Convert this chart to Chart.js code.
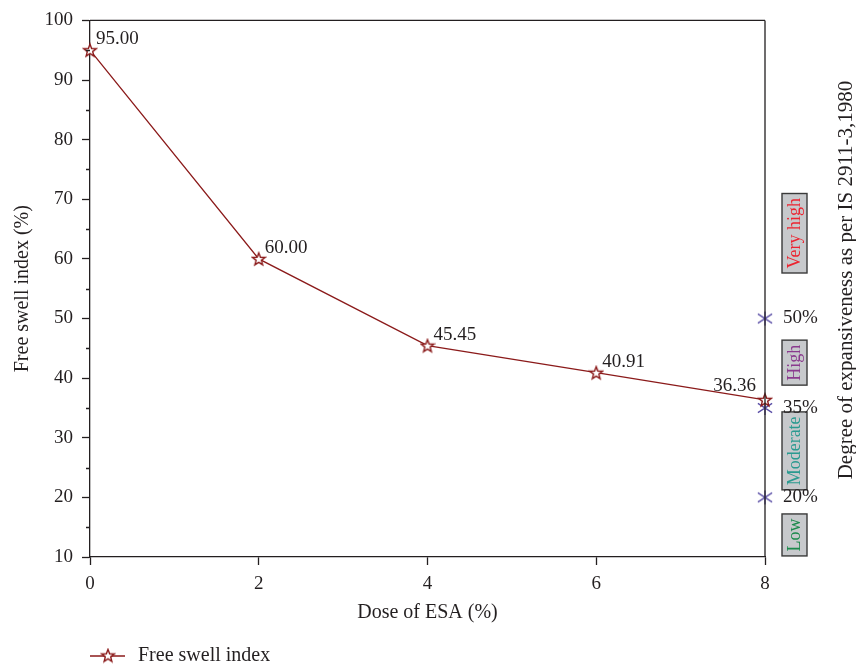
<!DOCTYPE html>
<html>
<head>
<meta charset="utf-8">
<script src="https://cdn.jsdelivr.net/npm/chart.js@4"></script>
<style>
  html, body { margin: 0; padding: 0; background: #fff; }
  #wrap { width: 856px; height: 667px; }
</style>
</head>
<body>
<div id="wrap"><canvas id="c" width="856" height="667"></canvas></div>
<script>
// Free swell index against dose of ESA
const doses = [0, 2, 4, 6, 8];
const freeSwell = [95.00, 60.00, 45.45, 40.91, 36.36];
const xTicks = [0, 2, 4, 6, 8];
const yTicks = [10, 20, 30, 40, 50, 60, 70, 80, 90, 100];

// IS 2911-3 expansiveness thresholds (%) and class bands
const thresholds = [20, 35, 50];
const classNames = ['Low', 'Moderate', 'High', 'Very high'];
const classCentres = [13.7, 27.8, 42.6, 64.3];
const classColours = ['#1c8a4c', '#2a9a90', '#8a3a8e', '#ec2430'];

const FONT = "'Liberation Serif', 'Times New Roman', serif";
const INK = '#231f20';
const RED = '#8b1a1a';
const PURPLE = '#5a4ea6';

function starImage() {
  const c = document.createElement('canvas');
  c.width = 16; c.height = 16;
  const g = c.getContext('2d');
  const R = 6.6, r = 2.8;
  g.beginPath();
  for (let i = 0; i < 10; i++) {
    const rad = i % 2 ? r : R;
    const a = -Math.PI / 2 + i * Math.PI / 5;
    const px = 8 + rad * Math.cos(a), py = 8.5 + rad * Math.sin(a);
    i ? g.lineTo(px, py) : g.moveTo(px, py);
  }
  g.closePath();
  g.fillStyle = '#fff';
  g.fill();
  g.strokeStyle = RED;
  g.lineWidth = 1.4;
  g.stroke();
  return c;
}

function asteriskImage() {
  const c = document.createElement('canvas');
  c.width = 20; c.height = 20;
  const g = c.getContext('2d');
  g.strokeStyle = PURPLE;
  g.lineWidth = 1.3;
  g.beginPath();
  g.moveTo(10, 3); g.lineTo(10, 17);
  const L = 8.5, a = 33 * Math.PI / 180;
  g.moveTo(10 - L * Math.cos(a), 10 - L * Math.sin(a));
  g.lineTo(10 + L * Math.cos(a), 10 + L * Math.sin(a));
  g.moveTo(10 - L * Math.cos(a), 10 + L * Math.sin(a));
  g.lineTo(10 + L * Math.cos(a), 10 - L * Math.sin(a));
  g.stroke();
  return c;
}

const star = starImage();
const asterisk = asteriskImage();

const extras = {
  id: 'extras',
  afterDraw(chart) {
    const { ctx, chartArea: a, scales: { x, y } } = chart;
    ctx.save();
    ctx.strokeStyle = INK;
    ctx.lineWidth = 1.3;
    // top and right frame lines
    ctx.beginPath();
    ctx.moveTo(a.left, a.top); ctx.lineTo(a.right, a.top);
    ctx.moveTo(a.right, a.top); ctx.lineTo(a.right, a.bottom);
    ctx.stroke();
    // minor ticks on the y axis
    ctx.beginPath();
    for (let v = 15; v < 100; v += 10) {
      const py = Math.round(y.getPixelForValue(v)) + 0.5;
      ctx.moveTo(a.left - 4, py); ctx.lineTo(a.left, py);
    }
    ctx.stroke();

    // value labels
    ctx.fillStyle = INK;
    ctx.font = '19px ' + FONT;
    ctx.textBaseline = 'alphabetic';
    freeSwell.forEach((v, i) => {
      const px = x.getPixelForValue(doses[i]);
      const py = y.getPixelForValue(v);
      if (i === freeSwell.length - 1) {
        ctx.textAlign = 'right';
        ctx.fillText(v.toFixed(2), px - 9, py - 9);
      } else {
        ctx.textAlign = 'left';
        ctx.fillText(v.toFixed(2), px + 6, py - 6);
      }
    });

    // class boxes with rotated names
    ctx.font = '18px ' + FONT;
    classNames.forEach((name, i) => {
      const cy = y.getPixelForValue(classCentres[i]);
      const w = ctx.measureText(name).width;
      const h = w + 9;
      const bx = a.right + 17, bw = 25;
      ctx.fillStyle = '#c7c9cc';
      ctx.fillRect(bx, cy - h / 2, bw, h);
      ctx.strokeStyle = '#3a3a3a';
      ctx.lineWidth = 1.4;
      ctx.strokeRect(bx, cy - h / 2, bw, h);
      ctx.save();
      ctx.translate(bx + bw / 2 + 1, cy);
      ctx.rotate(-Math.PI / 2);
      ctx.textAlign = 'center';
      ctx.textBaseline = 'middle';
      ctx.fillStyle = classColours[i];
      ctx.fillText(name, 0, 0);
      ctx.restore();
    });

    // threshold labels
    ctx.fillStyle = INK;
    ctx.font = '19px ' + FONT;
    ctx.textAlign = 'left';
    ctx.textBaseline = 'middle';
    thresholds.forEach(t => {
      ctx.fillText(t + '%', a.right + 18, y.getPixelForValue(t));
    });

    // axis titles
    ctx.font = '20px ' + FONT;
    ctx.textAlign = 'center';
    ctx.textBaseline = 'middle';
    ctx.fillText('Dose of ESA (%)', (a.left + a.right) / 2, 613);
    ctx.save();
    ctx.translate(23, (a.top + a.bottom) / 2);
    ctx.rotate(-Math.PI / 2);
    ctx.fillText('Free swell index (%)', 0, 0);
    ctx.restore();
    ctx.save();
    ctx.font = '21px ' + FONT;
    ctx.translate(846, 280);
    ctx.rotate(-Math.PI / 2);
    ctx.fillText('Degree of expansiveness as per IS 2911-3,1980', 0, 0);
    ctx.restore();

    // legend
    ctx.strokeStyle = RED;
    ctx.lineWidth = 1.3;
    ctx.beginPath();
    ctx.moveTo(90, 656); ctx.lineTo(125, 656);
    ctx.stroke();
    ctx.drawImage(star, 108 - 8, 656 - 8.5);
    ctx.fillStyle = INK;
    ctx.textAlign = 'left';
    ctx.fillText('Free swell index', 138, 656);
    ctx.restore();
  }
};

new Chart(document.getElementById('c'), {
  type: 'line',
  data: {
    datasets: [
      {
        label: 'Free swell index',
        data: doses.map((d, i) => ({ x: d, y: freeSwell[i] })),
        borderColor: RED,
        borderWidth: 1.3,
        pointStyle: star,
        pointRadius: 7,
        clip: false,
        tension: 0
      },
      {
        label: 'Thresholds',
        data: thresholds.map(t => ({ x: 8, y: t })),
        showLine: false,
        pointStyle: asterisk,
        pointRadius: 10,
        clip: false
      }
    ]
  },
  options: {
    responsive: false,
    animation: false,
    layout: { padding: { top: 16, right: 91, left: 0, bottom: 0 } },
    plugins: { legend: { display: false }, tooltip: { enabled: false } },
    scales: {
      x: {
        type: 'linear',
        min: 0, max: 8,
        afterFit(s) { s.height = 110; },
        afterBuildTicks(s) { s.ticks = xTicks.map(v => ({ value: v })); },
        grid: { drawOnChartArea: false, drawTicks: true, tickLength: 8, tickColor: INK, tickWidth: 1.3 },
        border: { display: true, color: INK, width: 1.3 },
        ticks: { color: INK, font: { family: FONT, size: 19 }, padding: 8, maxRotation: 0 }
      },
      y: {
        min: 10, max: 100,
        afterFit(s) { s.width = 90; },
        afterBuildTicks(s) { s.ticks = yTicks.map(v => ({ value: v })); },
        grid: { drawOnChartArea: false, drawTicks: true, tickLength: 8, tickColor: INK, tickWidth: 1.3 },
        border: { display: true, color: INK, width: 1.3 },
        ticks: { color: INK, font: { family: FONT, size: 19 }, padding: 9 }
      }
    }
  },
  plugins: [extras]
});
</script>
</body>
</html>
